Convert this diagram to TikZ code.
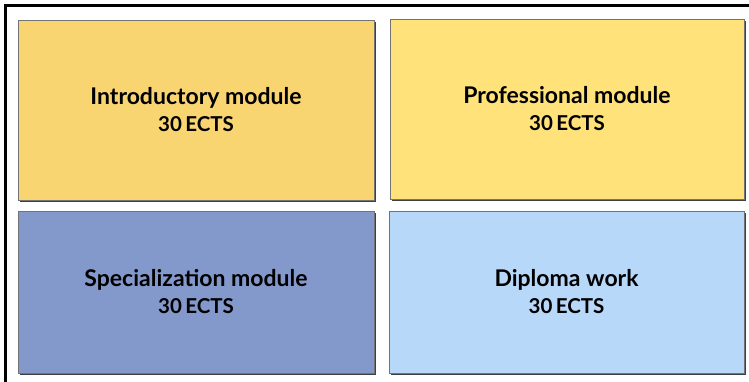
\documentclass[tikz,border=0pt]{standalone}
\usepackage{fontspec}
\setmainfont{Lato}
\usetikzlibrary{shadows}
\definecolor{intro}{HTML}{F9D572}
\definecolor{prof}{HTML}{FFE27A}
\definecolor{spec}{HTML}{8399CC}
\definecolor{dipl}{HTML}{B8D8FA}
\tikzset{
  module/.style={draw=black!55, line width=0.8pt, inner sep=0pt, align=center,
    font=\bfseries\fontsize{23}{30}\selectfont,
    drop shadow={shadow xshift=1.5pt, shadow yshift=-1.5pt, fill=black!75, opacity=1}}
}
\newcommand{\ectsline}{{\fontsize{20.5}{22}\selectfont 30\,ECTS}}
\begin{document}
\begin{tikzpicture}[x=1pt,y=-1pt]
\useasboundingbox (0,0) rectangle (749,381);
\begin{scope}
\clip (0,0) rectangle (749,381);
\draw[line width=3pt] (5.5,5.5) rectangle (760,400);
\end{scope}
\node[module, fill=intro, minimum width=356pt, minimum height=180pt] (intro) at (196,110)
  {Introductory module\\[-3pt]\ectsline};
\node[module, fill=prof, minimum width=354pt, minimum height=180pt] (prof) at (567,109)
  {Professional module\\[-3pt]\ectsline};
\node[module, fill=spec, minimum width=356pt, minimum height=162pt] (spec) at (196,292)
  {Specialization module\\[-3pt]\ectsline};
\node[module, fill=dipl, minimum width=355pt, minimum height=162pt] (dipl) at (566.5,292)
  {Diploma work\\[-3pt]\ectsline};
\end{tikzpicture}
\end{document}
